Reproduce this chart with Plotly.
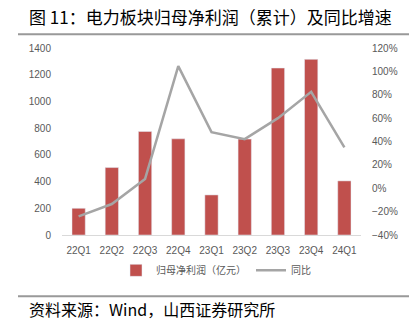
import plotly.graph_objects as go

categories = ["22Q1", "22Q2", "22Q3", "22Q4", "23Q1", "23Q2", "23Q3", "23Q4", "24Q1"]
profit = [200, 505, 775, 720, 300, 718, 1250, 1315, 405]
yoy = [-0.24, -0.135, 0.08, 1.045, 0.48, 0.42, 0.60, 0.825, 0.35]

W, H = 414, 325
L, R, T, B = 62, 53, 47.7, 89.5
pw, ph = W - L - R, H - T - B

def px(x):
    return (x - L) / pw

def py(y):
    return (H - B - y) / ph

fig = go.Figure()
fig.add_trace(go.Bar(x=categories, y=profit, name="归母净利润（亿元）",
                     marker=dict(color="#C0504D"), width=0.4))
fig.add_trace(go.Scatter(x=categories, y=yoy, name="同比", yaxis="y2", mode="lines",
                         line=dict(color="#A5A5A5", width=2.5)))

tickfont = dict(family="Liberation Sans, Arial, sans-serif", size=10, color="#595959")
fig.update_layout(
    width=W, height=H,
    margin=dict(l=L, r=R, t=T, b=B),
    paper_bgcolor="white", plot_bgcolor="white",
    showlegend=True,
    legend=dict(orientation="h", x=px(216), y=py(271), xanchor="center", yanchor="middle",
                font=dict(family="Noto Sans CJK SC", size=10, color="#595959"),
                itemwidth=30, tracegroupgap=0),
    xaxis=dict(showline=True, linecolor="#D9D9D9", linewidth=1, showgrid=False,
               tickfont=tickfont, ticks="", ticklen=0, ticklabelstandoff=6),
    yaxis=dict(range=[0, 1400], dtick=200, showgrid=False, zeroline=False,
               tickfont=tickfont, ticks="", ticklabelstandoff=10),
    yaxis2=dict(range=[-0.4, 1.2], dtick=0.2, tickformat=".0%", overlaying="y",
                side="right", showgrid=False, zeroline=False, tickfont=tickfont,
                ticks="", ticklabelstandoff=10),
    bargap=0.6,
    font=dict(family="Noto Sans CJK SC"),
)

fig.add_annotation(text="图 11：电力板块归母净利润（累计）及同比增速", xref="paper", yref="paper",
                   x=px(27), y=py(16), xanchor="left", yanchor="middle", showarrow=False,
                   font=dict(family="Noto Sans CJK SC", size=17, color="#000000"))
fig.add_annotation(text="资料来源：Wind，山西证券研究所", xref="paper", yref="paper",
                   x=px(27), y=py(310), xanchor="left", yanchor="middle", showarrow=False,
                   font=dict(family="Noto Sans CJK SC", size=16, color="#000000"))
fig.add_shape(type="line", xref="paper", yref="paper", x0=px(18), x1=px(409),
              y0=py(34), y1=py(34), line=dict(color="#999999", width=2))
fig.add_shape(type="line", xref="paper", yref="paper", x0=px(18), x1=px(409),
              y0=py(297), y1=py(297), line=dict(color="#999999", width=2))

fig.write_html("out.html")
